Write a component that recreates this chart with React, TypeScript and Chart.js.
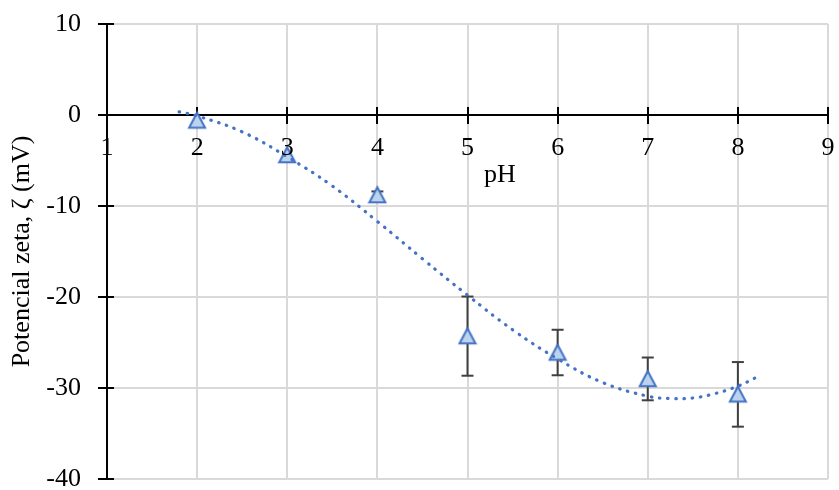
import { useEffect, useRef } from 'react';
import { Chart, registerables } from 'chart.js';

Chart.register(...registerables);

// Measured data (pH vs zeta potential, mV)
const phValues = [2, 3, 4, 5, 6, 7, 8];
const zetaValues = [-0.6, -4.4, -8.8, -24.3, -26.1, -29.0, -30.7];
const zetaErrors = [0, 0, 0.4, 4.35, 2.5, 2.35, 3.55];

// Trendline
const trendPh = [1.8, 2, 2.5, 3, 3.5, 4, 4.5, 5, 5.5, 6, 6.5, 7, 7.25, 7.5, 7.75, 8, 8.2];
const trendZeta = [0.35, -0.1, -1.85, -4.6, -7.8, -11.7, -15.8, -19.8, -23.6, -26.8, -29.4, -30.9, -31.15, -31.1, -30.6, -29.8, -28.85];

// Axis ticks
const xTickValues = [1, 2, 3, 4, 5, 6, 7, 8, 9];
const yTickValues = [10, 0, -10, -20, -30, -40];

const xTitle = 'pH';
const yTitle = 'Potencial zeta, ζ (mV)';

const FONT = "'Liberation Serif', 'Times New Roman', serif";

function makeTriangle(): HTMLCanvasElement {
  const c = document.createElement('canvas');
  c.width = 20;
  c.height = 20;
  const g = c.getContext('2d')!;
  g.beginPath();
  g.moveTo(10, 2.2);
  g.lineTo(18, 17.3);
  g.lineTo(2, 17.3);
  g.closePath();
  g.fillStyle = '#bcd3ee';
  g.fill();
  g.lineWidth = 2;
  g.lineJoin = 'miter';
  g.strokeStyle = '#4472c4';
  g.stroke();
  return c;
}

const crossTicks = {
  id: 'crossTicks',
  beforeDatasetsDraw(chart: any) {
    const { ctx } = chart;
    const xs = chart.scales.x;
    const ys = chart.scales.y;
    const y0 = Math.round(ys.getPixelForValue(0));
    const xl = Math.round(xs.getPixelForValue(xTickValues[0]));
    ctx.save();
    ctx.strokeStyle = '#000';
    ctx.lineWidth = 2;
    ctx.beginPath();
    xTickValues.forEach((v) => {
      const px = Math.round(xs.getPixelForValue(v));
      ctx.moveTo(px, y0);
      ctx.lineTo(px, y0 - 8);
    });
    yTickValues.forEach((v) => {
      const py = Math.round(ys.getPixelForValue(v));
      ctx.moveTo(xl, py);
      ctx.lineTo(xl + 7, py);
    });
    ctx.stroke();
    ctx.restore();
  },
};

const shiftTitle = {
  id: 'shiftTitle',
  afterLayout(chart: any) {
    const s = chart.scales.xt;
    if (s) s.left = s.left + 65;
  },
};

export default function App() {
  const ref = useRef<HTMLCanvasElement>(null);

  useEffect(() => {
    const tri = makeTriangle();
    const points = phValues.map((x, i) => ({ x, y: zetaValues[i] }));
    const stems: any[] = [];
    const caps: any[] = [];
    phValues.forEach((x, i) => {
      const e = zetaErrors[i];
      if (e > 0) {
        stems.push({ x, y: zetaValues[i] - e }, { x, y: zetaValues[i] + e }, { x, y: null });
        caps.push({ x, y: zetaValues[i] - e }, { x, y: zetaValues[i] + e });
      }
    });
    const trend = trendPh.map((x, i) => ({ x, y: trendZeta[i] }));

    const gridColor = '#d9d9d9';
    const chart = new Chart(ref.current!, {
      type: 'scatter',
      data: {
        datasets: [
          {
            type: 'line',
            data: trend,
            borderColor: '#4472c4',
            borderWidth: 3.2,
            borderDash: [0.5, 7.7],
            borderCapStyle: 'round',
            pointRadius: 0,
            tension: 0.4,
            fill: false,
            order: 0,
          } as any,
          {
            data: points,
            pointStyle: tri,
            pointRadius: 10,
            order: 1,
          } as any,
          {
            data: caps,
            pointStyle: 'line',
            pointRadius: 6,
            pointBorderWidth: 2,
            pointBorderColor: '#404040',
            order: 2,
          } as any,
          {
            type: 'line',
            data: stems,
            borderColor: '#404040',
            borderWidth: 2,
            pointRadius: 0,
            spanGaps: false,
            tension: 0,
            order: 3,
          } as any,
        ],
      },
      options: {
        animation: false,
        responsive: false,
        devicePixelRatio: 1,
        layout: { padding: { top: 24, right: 7, bottom: 9, left: 0 } },
        plugins: { legend: { display: false }, tooltip: { enabled: false } },
        font: { family: FONT, size: 26 },
        scales: {
          x: {
            type: 'linear',
            position: { y: 0 } as any,
            min: 1,
            max: 9,
            afterBuildTicks: (s: any) => {
              s.ticks = xTickValues.map((v) => ({ value: v }));
            },
            ticks: {
              autoSkip: false,
              padding: 10,
              color: '#000',
              font: { family: FONT, size: 26 },
              z: 1,
              callback: (v: any) => String(v),
            },
            grid: { color: gridColor, lineWidth: 2, tickColor: '#000', tickWidth: 2, tickLength: 8 },
            border: { color: '#000', width: 2 },
            afterFit: (s: any) => {
              s.height = 0;
              s.paddingLeft = 0;
              s.paddingRight = 0;
            },
          } as any,
          xt: {
            type: 'linear',
            axis: 'x',
            position: { y: 0 } as any,
            min: 1,
            max: 9,
            ticks: { display: false },
            grid: { display: false },
            border: { display: false },
            title: {
              display: true,
              text: xTitle,
              color: '#000',
              font: { family: FONT, size: 26 },
              padding: { top: 0, bottom: -76 },
            },
            afterFit: (s: any) => {
              s.height = 0;
              s.paddingLeft = 0;
              s.paddingRight = 0;
            },
          } as any,
          y: {
            type: 'linear',
            position: 'left',
            min: -40,
            max: 10,
            afterBuildTicks: (s: any) => {
              s.ticks = yTickValues.map((v) => ({ value: v }));
            },
            ticks: {
              padding: 17,
              color: '#000',
              font: { family: FONT, size: 26 },
              callback: (v: any) => String(v),
            },
            grid: { color: gridColor, lineWidth: 2, tickColor: '#000', tickWidth: 2, tickLength: 9 },
            border: { color: '#000', width: 2 },
            title: {
              display: true,
              text: yTitle,
              color: '#000',
              font: { family: FONT, size: 26 },
              padding: { top: 7, bottom: 0 },
            },
            afterFit: (s: any) => {
              s.width = 107;
              s.paddingTop = 0;
              s.paddingBottom = 0;
            },
          } as any,
        },
      },
      plugins: [crossTicks, shiftTitle],
    });
    return () => chart.destroy();
  }, []);

  return (
    <div style={{ position: 'fixed', left: 0, top: 0, width: 839, height: 490, background: '#fff' }}>
      <canvas ref={ref} width={839} height={490} style={{ display: 'block', width: 839, height: 490 }} />
    </div>
  );
}
